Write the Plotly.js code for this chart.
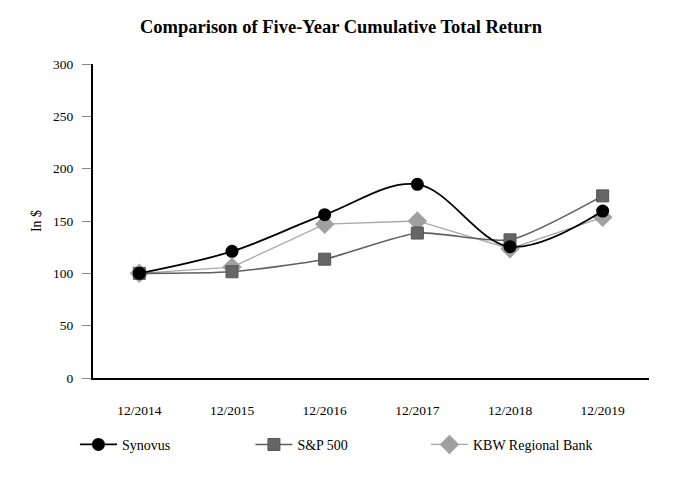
<!DOCTYPE html>
<html>
<head>
<meta charset="utf-8">
<script src="https://cdn.plot.ly/plotly-3.0.1.min.js"></script>
<style>html,body{margin:0;padding:0;background:#fff;}#chart{width:682px;height:480px;}</style>
</head>
<body>
<div id="chart"></div>
<script>
const categories = ["12/2014", "12/2015", "12/2016", "12/2017", "12/2018", "12/2019"];
const synovus = [100, 121, 156, 185, 125.5, 159.5];
const sp500 = [100, 101.5, 113.5, 138.5, 132, 174];
const kbw = [100, 106, 147, 150, 123.5, 153.5];
const yTicks = [0, 50, 100, 150, 200, 250, 300];

const serif = "Times New Roman, Liberation Serif, serif";

// drawn bottom-to-top: KBW, S&P 500, Synovus (legend order set via legendrank)
const traces = [
  {x: categories, y: kbw, name: "KBW Regional Bank", type: "scatter", mode: "lines+markers", legendrank: 3,
   line: {color: "#a8a8a8", width: 1.3, shape: "linear"},
   marker: {symbol: "diamond", size: 15, color: "#a0a0a0"}},
  {x: categories, y: sp500, name: "S&P 500", type: "scatter", mode: "lines+markers", legendrank: 2,
   line: {color: "#5f5f5f", width: 1.6, shape: "spline", smoothing: 0.6},
   marker: {symbol: "square", size: 12, color: "#666666", line: {color: "#555555", width: 1}}},
  {x: categories, y: synovus, name: "Synovus", type: "scatter", mode: "lines+markers", legendrank: 1,
   line: {color: "#000000", width: 1.8, shape: "spline", smoothing: 1},
   marker: {symbol: "circle", size: 13, color: "#000000"}}
];

const layout = {
  width: 682, height: 480,
  paper_bgcolor: "#ffffff", plot_bgcolor: "#ffffff",
  margin: {l: 93, r: 33, t: 64, b: 102},
  font: {family: serif, size: 13, color: "#000000"},
  title: {text: "<b>Comparison of Five-Year Cumulative Total Return</b>", font: {family: serif, size: 18.5, color: "#000"},
          x: 0.5, xanchor: "center", y: 0.945, yanchor: "middle"},
  showlegend: true,
  legend: {orientation: "h", x: -0.0325, xanchor: "left", y: -0.162, yanchor: "top", itemwidth: 37,
           font: {family: serif, size: 14}, entrywidth: 123.5, entrywidthmode: "pixels", traceorder: "normal"},
  xaxis: {type: "category", range: [-0.5, 5.5], showgrid: false, zeroline: false,
          showline: true, linecolor: "#000", linewidth: 2, ticks: "", ticklabelstandoff: 19,
          tickfont: {family: serif, size: 13.5}},
  yaxis: {range: [0, 300], tickvals: yTicks, showgrid: false, zeroline: false,
          showline: true, linecolor: "#000", linewidth: 2, ticks: "outside", ticklen: 9,
          tickcolor: "#888", tickwidth: 1, ticklabelstandoff: 6,
          tickfont: {family: serif, size: 13.5},
          title: {text: "In $", font: {family: serif, size: 14}, standoff: 8}}
};

Plotly.newPlot("chart", traces, layout, {displayModeBar: false, staticPlot: true});
</script>
</body>
</html>
